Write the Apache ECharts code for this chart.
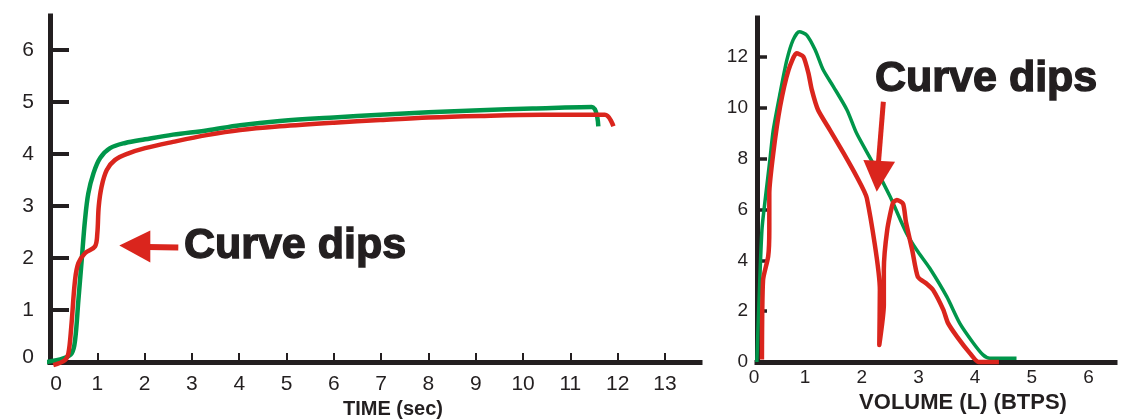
<!DOCTYPE html>
<html>
<head>
<meta charset="utf-8">
<script src="https://cdn.jsdelivr.net/npm/echarts@6/dist/echarts.min.js"></script>
<style>html,body{margin:0;padding:0;background:#fff}#c{width:1134px;height:419px}</style>
</head>
<body>
<div id="c"></div>
<script>
// ---- data ----
const timeTicks = [0,1,2,3,4,5,6,7,8,9,10,11,12,13];
const volumeTicksLeft = [0,1,2,3,4,5,6];
const flowTicks = [0,2,4,6,8,10,12];
const volumeTicksRight = [0,1,2,3,4,5,6];

const xNameLeft = 'TIME (sec)';
const xNameRight = 'VOLUME (L) (BTPS)';
const noteText = 'Curve dips';

// volume-time: [time s, volume L]
const timeNormal = [[-0.07,0],[0.28,0.07],[0.46,0.17],[0.53,0.42],[0.6,1.19],[0.67,1.96],[0.74,2.73],[0.81,3.24],[0.92,3.63],[1.06,3.92],[1.27,4.11],[1.59,4.21],[2.01,4.28],[2.6,4.37],[3.31,4.45],[4.02,4.55],[4.86,4.63],[6.0,4.7],[6.98,4.75],[8.0,4.8],[9.09,4.84],[10.2,4.87],[11.45,4.9],[11.59,4.53]];
const timeDip = [[0.07,-0.06],[0.32,0.04],[0.39,0.17],[0.45,0.68],[0.53,1.58],[0.6,1.9],[0.74,2.09],[0.95,2.22],[1.0,2.47],[1.03,2.99],[1.09,3.37],[1.2,3.69],[1.37,3.88],[1.66,4.01],[2.01,4.11],[2.6,4.23],[3.31,4.36],[4.02,4.46],[4.86,4.53],[6.0,4.6],[6.98,4.65],[8.0,4.7],[9.09,4.73],[10.4,4.75],[11.73,4.75],[11.91,4.53]];

// flow-volume: [volume L, flow L/s]
const loopNormal = [[0.15,0],[0.19,2.5],[0.24,5.2],[0.29,6.25],[0.38,7.95],[0.44,9.13],[0.56,10.58],[0.68,11.89],[0.79,12.68],[0.9,13.0],[1.03,12.87],[1.18,12.28],[1.32,11.5],[1.5,10.84],[1.74,9.92],[1.91,9.0],[2.2,7.82],[2.5,6.51],[2.79,5.07],[2.97,4.41],[3.2,3.69],[3.5,2.57],[3.73,1.52],[3.97,0.74],[4.14,0.28],[4.26,0.15],[4.73,0.15]];
const loopDip = [[0.24,0.1],[0.26,3.23],[0.35,4.15],[0.37,5.2],[0.37,6.64],[0.44,8.22],[0.56,10.05],[0.71,11.5],[0.85,12.15],[0.97,12.02],[1.06,11.37],[1.12,10.71],[1.23,9.92],[1.44,9.13],[1.68,8.22],[1.91,7.3],[2.09,6.45],[2.32,2.83],[2.31,0.67],[2.39,2.24],[2.39,3.62],[2.45,5.2],[2.55,6.26],[2.62,6.38],[2.73,6.22],[2.78,5.51],[2.89,4.41],[2.99,3.35],[3.15,3.07],[3.26,2.83],[3.44,2.05],[3.52,1.54],[3.68,1.0],[3.91,0.34],[4.06,0],[4.42,0]];

// annotation anchors in data coordinates
const leftArrowTip = [1.465, 2.24];
const leftTextAnchor = [2.83, 2.23];
const rightArrowTip = [2.265, 6.70];
const rightTextAnchor = [2.235, 11.14];

// ---- style ----
const INK = '#231f20';
const GREEN = '#00964a';
const RED = '#da251d';
const FONT = "'Liberation Sans', Arial, sans-serif";

const chart = echarts.init(document.getElementById('c'), null, {renderer: 'canvas'});

function axisBase() {
  return {
    axisLine: {show: true, onZero: false, lineStyle: {color: INK, width: 5, cap: 'square'}},
    splitLine: {show: false}
  };
}

const option = {
  animation: false,
  backgroundColor: '#fff',
  grid: [
    {left: 50, top: 16, width: 650, height: 346, outerBoundsMode: 'none', containLabel: false},
    {left: 757, top: 18, width: 358, height: 344, outerBoundsMode: 'none', containLabel: false}
  ],
  xAxis: [
    Object.assign(axisBase(), {
      type: 'value', gridIndex: 0, min: 0, max: 13.74,
      axisTick: {show: true, inside: true, length: 9, lineStyle: {color: INK, width: 2}, customValues: timeTicks.slice(1)},
      axisLabel: {
        customValues: timeTicks, margin: 12, color: INK, fontSize: 21, fontFamily: FONT,
        formatter: v => v === 0 ? '{z|0}' : String(v),
        rich: {z: {padding: [0, 0, 0, 12], fontSize: 21, fontFamily: FONT, color: INK}}
      },
      name: xNameLeft, nameLocation: 'middle', nameGap: 35,
      nameTextStyle: {fontFamily: FONT, fontWeight: 'bold', fontSize: 20, color: INK, padding: [0, 0, 0, 36]}
    }),
    Object.assign(axisBase(), {
      type: 'value', gridIndex: 1, min: 0.153, max: 6.467,
      axisTick: {show: false},
      axisLabel: {
        customValues: [0.153].concat(volumeTicksRight.slice(1)), margin: 6, color: INK, fontSize: 19, fontFamily: FONT,
        formatter: v => v < 0.5 ? '{z|0}' : String(Math.round(v)),
        rich: {z: {padding: [0, 6, 0, 0], fontSize: 19, fontFamily: FONT, color: INK}}
      },
      name: xNameRight, nameLocation: 'middle', nameGap: 28,
      nameTextStyle: {fontFamily: FONT, fontWeight: 'bold', fontSize: 22, color: INK, padding: [0, 0, 0, 54]}
    })
  ],
  yAxis: [
    Object.assign(axisBase(), {
      type: 'value', gridIndex: 0, min: 0, max: 6.65,
      axisTick: {show: true, inside: true, length: 19, lineStyle: {color: INK, width: 4}, customValues: volumeTicksLeft},
      axisLabel: {
        customValues: volumeTicksLeft, margin: 16, color: INK, fontSize: 21, fontFamily: FONT,
        formatter: v => v === 0 ? '{z|0}' : String(v),
        rich: {z: {padding: [0, 0, 10, 0], fontSize: 21, fontFamily: FONT, color: INK}}
      }
    }),
    Object.assign(axisBase(), {
      type: 'value', gridIndex: 1, min: 0, max: 13.54,
      axisTick: {show: true, inside: true, length: 10, lineStyle: {color: INK, width: 3.5}, customValues: flowTicks.slice(1)},
      axisLabel: {customValues: flowTicks, margin: 9, color: INK, fontSize: 19, fontFamily: FONT}
    })
  ],
  series: [
    {type: 'line', xAxisIndex: 0, yAxisIndex: 0, data: timeNormal, showSymbol: false, clip: false, smooth: 0.35,
     lineStyle: {color: GREEN, width: 4.5, join: 'round'}, z: 3},
    {type: 'line', xAxisIndex: 0, yAxisIndex: 0, data: timeDip, showSymbol: false, clip: false, smooth: 0.35,
     lineStyle: {color: RED, width: 4.5, join: 'round'}, z: 4},
    {type: 'line', xAxisIndex: 1, yAxisIndex: 1, data: loopNormal, showSymbol: false, clip: false, smooth: 0.25,
     lineStyle: {color: GREEN, width: 3.5, join: 'round'}, z: 3},
    {type: 'line', xAxisIndex: 1, yAxisIndex: 1, data: loopDip, showSymbol: false, clip: false, smooth: 0.2,
     lineStyle: {color: RED, width: 4.5, join: 'round'}, z: 4}
  ]
};

chart.setOption(option);

// annotations placed from data anchors
const lt = chart.convertToPixel({gridIndex: 0}, leftArrowTip);
const ltx = chart.convertToPixel({gridIndex: 0}, leftTextAnchor);
const rt = chart.convertToPixel({gridIndex: 1}, rightArrowTip);
const rtx = chart.convertToPixel({gridIndex: 1}, rightTextAnchor);

const noteStyle = {text: noteText, font: 'bold 43px ' + FONT, fill: INK, stroke: INK, lineWidth: 1.4, textAlign: 'left', textVerticalAlign: 'middle'};

chart.setOption({
  graphic: [
    {type: 'line', shape: {x1: lt[0] + 28, y1: lt[1] + 1.5, x2: lt[0] + 59, y2: lt[1] + 2}, style: {stroke: RED, lineWidth: 6}, z: 10},
    {type: 'polygon', shape: {points: [[lt[0], lt[1]], [lt[0] + 31, lt[1] - 15], [lt[0] + 31, lt[1] + 17]]}, style: {fill: RED}, z: 10},
    {type: 'text', x: ltx[0], y: ltx[1], style: Object.assign({}, noteStyle), z: 10},
    {type: 'line', shape: {x1: rt[0] + 1.6, y1: rt[1] - 28, x2: rt[0] + 6.6, y2: rt[1] - 90}, style: {stroke: RED, lineWidth: 5}, z: 10},
    {type: 'polygon', shape: {points: [[rt[0], rt[1]], [rt[0] - 13.4, rt[1] - 31.7], [rt[0] + 18.3, rt[1] - 30]]}, style: {fill: RED}, z: 10},
    {type: 'text', x: rtx[0], y: rtx[1], style: Object.assign({}, noteStyle), z: 10}
  ]
});
</script>
</body>
</html>
